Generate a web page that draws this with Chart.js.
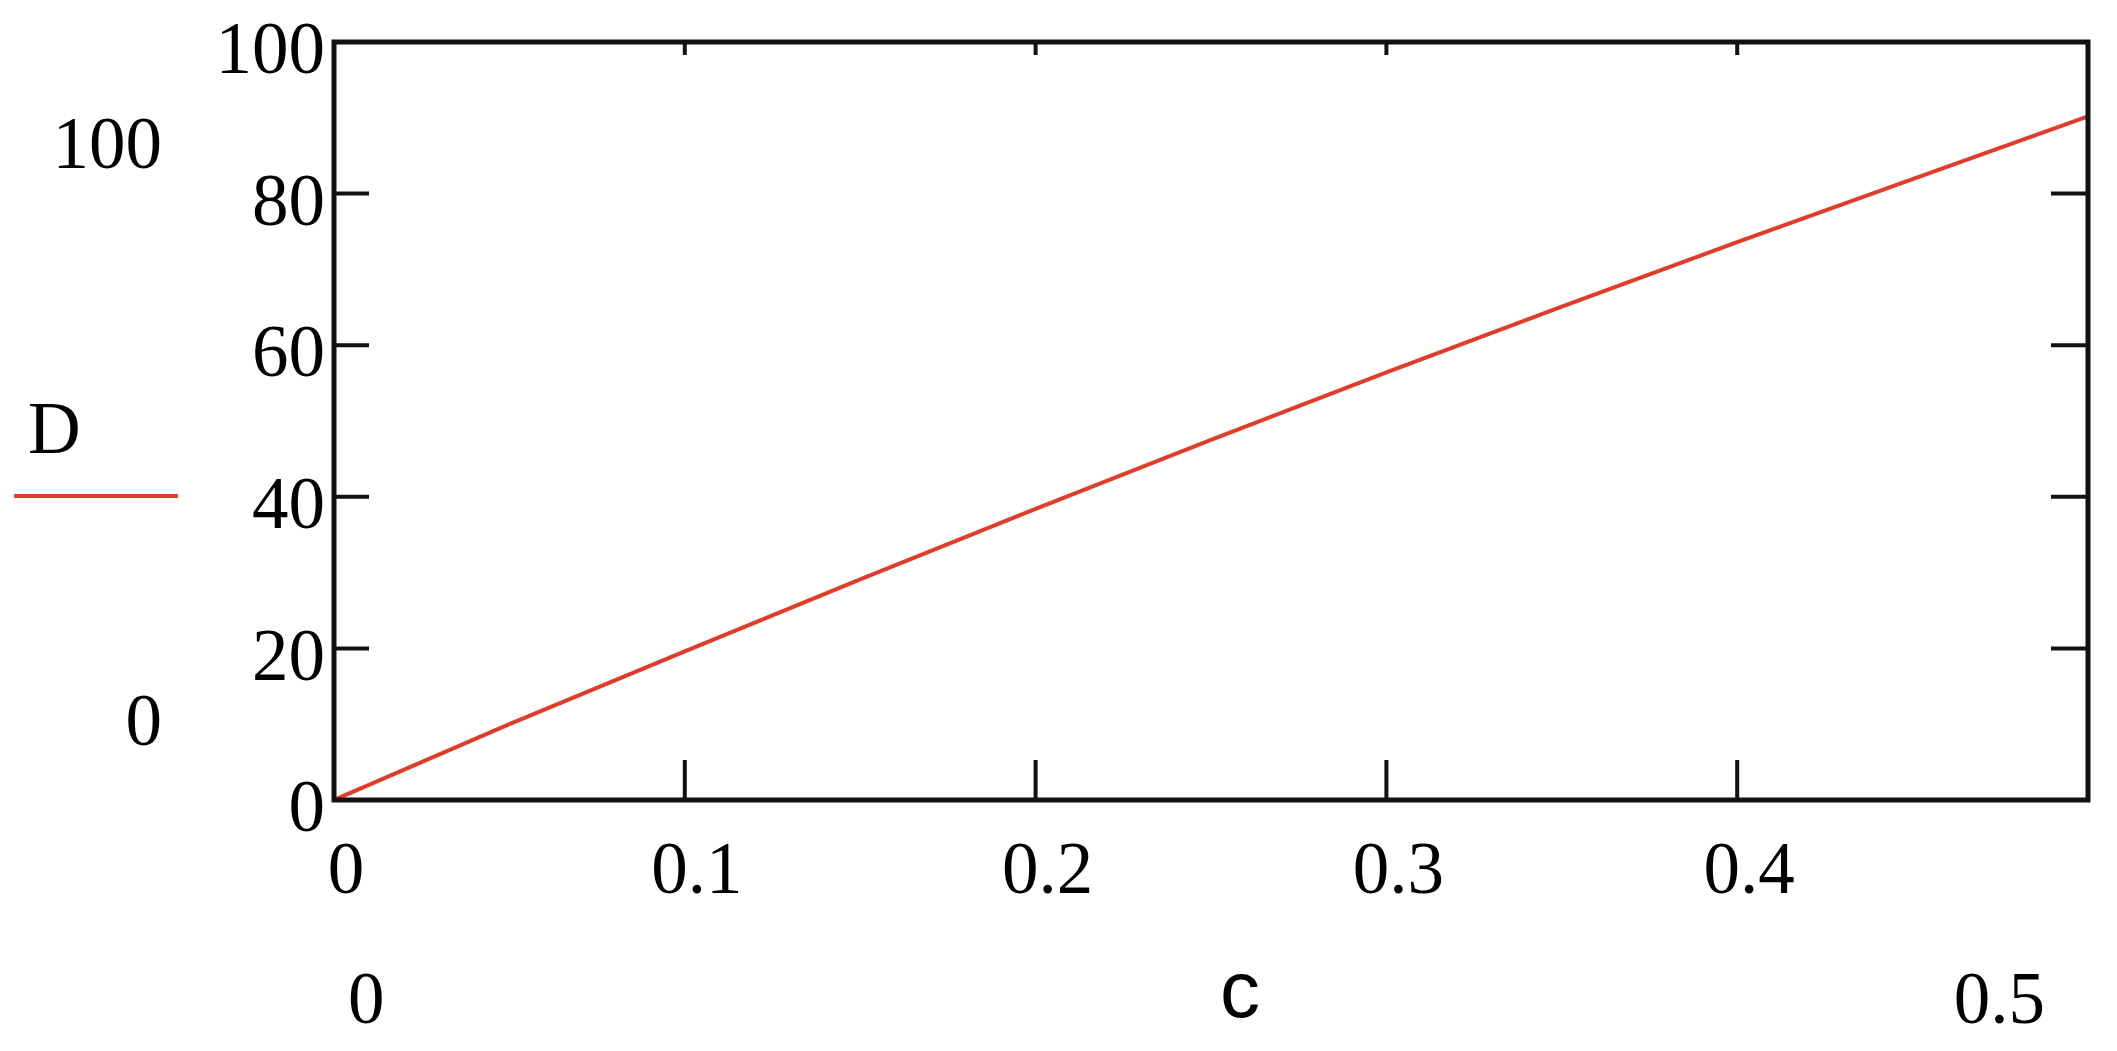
<!DOCTYPE html>
<html>
<head>
<meta charset="utf-8">
<script src="https://cdn.jsdelivr.net/npm/chart.js@4"></script>
<style>
  html, body { margin: 0; padding: 0; background: #fff; }
  canvas { display: block; }
</style>
</head>
<body>
<canvas id="plot" width="2117" height="1051"></canvas>
<script>
// D vs c
const cValues = [0, 0.05, 0.1, 0.15, 0.2, 0.25, 0.3, 0.35, 0.4, 0.45, 0.5];
const dValues = [0, 10, 19.6, 29.1, 38.4, 47.5, 56.4, 65.1, 73.6, 81.9, 90.2];

const yTicks = [0, 20, 40, 60, 80, 100];
const xTicks = [0, 0.1, 0.2, 0.3, 0.4];

// range labels that sit outside the box
const yRangeLabels = ['100', '0'];
const xRangeLabels = ['0', '0.5'];
const seriesName = 'D';
const xName = 'c';

const red = '#e03c2a';
const serif = "'Liberation Serif', 'Times New Roman', serif";

const frame = {
  id: 'frame',
  afterDraw(chart) {
    const ctx = chart.ctx;
    const a = chart.chartArea;
    const xs = chart.scales.x;
    const ys = chart.scales.y;
    ctx.save();
    ctx.strokeStyle = '#111';
    ctx.lineWidth = 5;
    ctx.strokeRect(a.left, a.top, a.right - a.left, a.bottom - a.top);

    ctx.lineWidth = 4;
    ctx.beginPath();
    yTicks.slice(1, -1).forEach(v => {
      const y = ys.getPixelForValue(v);
      ctx.moveTo(a.left, y); ctx.lineTo(a.left + 35, y);
      ctx.moveTo(a.right, y); ctx.lineTo(a.right - 37, y);
    });
    xTicks.slice(1).forEach(v => {
      const x = xs.getPixelForValue(v);
      ctx.moveTo(x, a.bottom); ctx.lineTo(x, a.bottom - 40);
      ctx.moveTo(x, a.top); ctx.lineTo(x, a.top + 13);
    });
    ctx.stroke();

    // the extra labels
    ctx.fillStyle = '#000';
    ctx.font = '73px ' + serif;
    ctx.textBaseline = 'alphabetic';
    ctx.textAlign = 'right';
    ctx.fillText(yRangeLabels[0], a.left - 172, 168);
    ctx.fillText(yRangeLabels[1], a.left - 172, 745);
    ctx.textAlign = 'left';
    ctx.fillText(seriesName, 28, 453);
    ctx.fillText(xRangeLabels[0], a.left + 14, 1023);
    ctx.textAlign = 'right';
    ctx.fillText(xRangeLabels[1], a.right - 43, 1023);
    ctx.textAlign = 'center';
    ctx.font = "80px 'Liberation Sans', Arial, sans-serif";
    ctx.fillText(xName, 1240, 1017);

    ctx.strokeStyle = red;
    ctx.lineWidth = 4;
    ctx.beginPath();
    ctx.moveTo(14, 496); ctx.lineTo(178, 496);
    ctx.stroke();
    ctx.restore();
  }
};

new Chart(document.getElementById('plot'), {
  type: 'line',
  data: {
    datasets: [{
      label: seriesName,
      data: cValues.map((c, i) => ({ x: c, y: dValues[i] })),
      borderColor: red,
      borderWidth: 4,
      pointRadius: 0,
      tension: 0,
      fill: false
    }]
  },
  options: {
    responsive: false,
    animation: false,
    layout: { padding: { left: 0, top: 42, right: 29, bottom: 0 } },
    plugins: { legend: { display: false }, tooltip: { enabled: false } },
    scales: {
      x: {
        type: 'linear',
        min: 0,
        max: 0.5,
        afterFit: s => { s.height = 251; s.paddingLeft = 0; s.paddingRight = 0; },
        afterBuildTicks: s => { s.ticks = xTicks.map(v => ({ value: v })); },
        grid: { display: false, drawTicks: false },
        border: { display: false },
        ticks: {
          font: { family: serif, size: 73 },
          color: '#000',
          padding: 30,
          labelOffset: 12,
          maxRotation: 0,
          callback: v => String(+v.toFixed(1))
        }
      },
      y: {
        min: 0,
        max: 100,
        afterFit: s => { s.width = 334; s.paddingTop = 0; s.paddingBottom = 0; },
        afterBuildTicks: s => { s.ticks = yTicks.map(v => ({ value: v })); },
        grid: { display: false, drawTicks: false },
        border: { display: false },
        ticks: {
          font: { family: serif, size: 73 },
          color: '#000',
          padding: 9,
          labelOffset: 12
        }
      }
    }
  },
  plugins: [frame]
});
</script>
</body>
</html>
